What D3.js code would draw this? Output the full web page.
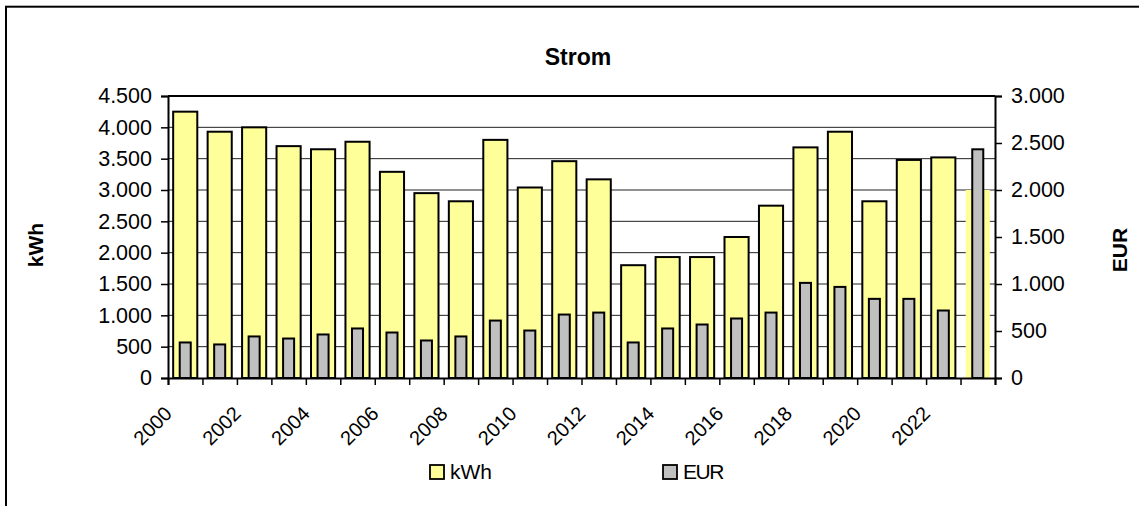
<!DOCTYPE html>
<html>
<head>
<meta charset="utf-8">
<script src="https://cdn.jsdelivr.net/npm/d3@7"></script>
<style>
  html, body { margin: 0; padding: 0; background: #fff; }
  svg { display: block; font-family: Arial, "Liberation Sans", sans-serif; }
</style>
</head>
<body>
<svg id="chart" width="1139" height="506"></svg>
<script>
const years = [2000,2001,2002,2003,2004,2005,2006,2007,2008,2009,2010,2011,2012,2013,2014,2015,2016,2017,2018,2019,2020,2021,2022,2023];
const kwh = [4250,3930,4000,3700,3650,3770,3290,2950,2820,3800,3040,3460,3170,1800,1930,1930,2250,2750,3680,3930,2820,3480,3520,3000];
const eur = [378,357,442,420,463,527,484,399,442,611,505,675,696,378,527,569,633,696,1012,969,842,842,718,2433];
const kwhTicks = [0,500,1000,1500,2000,2500,3000,3500,4000,4500];
const eurTicks = [0,500,1000,1500,2000,2500,3000];
const yearLabels = [2000,2002,2004,2006,2008,2010,2012,2014,2016,2018,2020,2022];
const title = "Strom";
const leftTitle = "kWh";
const rightTitle = "EUR";
const seriesNames = ["kWh", "EUR"];

const svg = d3.select("#chart");
const L = 168, R = 995, T = 96, B = 378;
const locale = d3.formatLocale({decimal: ",", thousands: ".", grouping: [3], currency: ["", "€"]});
const fmt = locale.format(",d");

// outer frame
svg.append("rect").attr("x", 6).attr("y", 6.7).attr("width", 1200).attr("height", 600)
  .attr("fill", "none").attr("stroke", "#000").attr("stroke-width", 2);

const x = d3.scaleBand().domain(years).range([L, R]).paddingInner(0.3).paddingOuter(0.15);
const step = x.step();
const yL = d3.scaleLinear().domain([0, 4500]).range([B, T]);
const yR = d3.scaleLinear().domain([0, 3000]).range([B, T]);

// gridlines
svg.append("g").selectAll("line").data(kwhTicks.filter(v => v > 0 && v < 4500)).join("line")
  .attr("x1", L).attr("x2", R).attr("y1", d => yL(d)).attr("y2", d => yL(d))
  .attr("stroke", "#222").attr("stroke-width", 1);

const data = years.map((y, i) => ({year: y, kwh: kwh[i], eur: eur[i], last: i === years.length - 1}));

// kWh bars
svg.append("g").selectAll("rect").data(data).join("rect")
  .attr("x", d => x(d.year)).attr("width", x.bandwidth())
  .attr("y", d => yL(d.kwh)).attr("height", d => B - yL(d.kwh))
  .attr("fill", "#FFFF99")
  .attr("stroke", d => d.last ? "none" : "#000").attr("stroke-width", 2);

// EUR bars
const gw = step * 0.32;
svg.append("g").selectAll("rect").data(data).join("rect")
  .attr("x", d => x(d.year) + x.bandwidth() / 2 - gw / 2).attr("width", gw)
  .attr("y", d => yR(d.eur)).attr("height", d => B - yR(d.eur))
  .attr("fill", "#C0C0C0").attr("stroke", "#000").attr("stroke-width", 2);

// plot top border
svg.append("line").attr("x1", L).attr("x2", R).attr("y1", T).attr("y2", T)
  .attr("stroke", "#000").attr("stroke-width", 2);

// left axis
const gL = svg.append("g").attr("transform", `translate(${L},0)`)
  .call(d3.axisLeft(yL).tickValues(kwhTicks).tickFormat(fmt).tickSize(7).tickPadding(9));
// right axis
const gR = svg.append("g").attr("transform", `translate(${R},0)`)
  .call(d3.axisRight(yR).tickValues(eurTicks).tickFormat(fmt).tickSize(7).tickPadding(9));
// bottom axis: ticks at category boundaries
const xb = d3.scaleLinear().domain([0, years.length]).range([L, R]);
const gB = svg.append("g").attr("transform", `translate(0,${B})`)
  .call(d3.axisBottom(xb).tickValues(d3.range(years.length + 1)).tickFormat("").tickSize(7));

[gL, gR, gB].forEach(g => {
  g.select(".domain").attr("stroke", "#000").attr("stroke-width", 2);
  g.selectAll(".tick line").attr("stroke", "#000").attr("stroke-width", 1.5);
  g.selectAll("text").attr("font-size", 21.5).attr("fill", "#000")
    .attr("font-family", "Arial, 'Liberation Sans', sans-serif");
});

// year labels
svg.append("g").selectAll("text").data(yearLabels).join("text")
  .attr("transform", d => `translate(${x(d) + x.bandwidth() / 2 - 12},${B + 37}) rotate(-45)`)
  .attr("text-anchor", "end")
  .attr("font-size", 20).attr("fill", "#000")
  .text(d => d);

// titles
svg.append("text").attr("x", 578).attr("y", 65).attr("text-anchor", "middle")
  .attr("font-size", 23).attr("font-weight", "bold").text(title);
svg.append("text").attr("transform", "translate(43,245) rotate(-90)").attr("text-anchor", "middle")
  .attr("font-size", 21).attr("font-weight", "bold").text(leftTitle);
svg.append("text").attr("transform", "translate(1127,250) rotate(-90)").attr("text-anchor", "middle")
  .attr("font-size", 21).attr("font-weight", "bold").text(rightTitle);

// legend
const legendItems = [
  {name: seriesNames[0], fill: "#FFFF99", x: 430},
  {name: seriesNames[1], fill: "#C0C0C0", x: 663}
];
const lg = svg.append("g").selectAll("g").data(legendItems).join("g");
lg.append("rect").attr("x", d => d.x).attr("y", 465).attr("width", 14).attr("height", 14)
  .attr("fill", d => d.fill).attr("stroke", "#000").attr("stroke-width", 1.8);
lg.append("text").attr("x", d => d.x + 20).attr("y", 479)
  .attr("font-size", 21).attr("letter-spacing", d => d.name === "EUR" ? -1.5 : 0).text(d => d.name);
</script>
</body>
</html>
